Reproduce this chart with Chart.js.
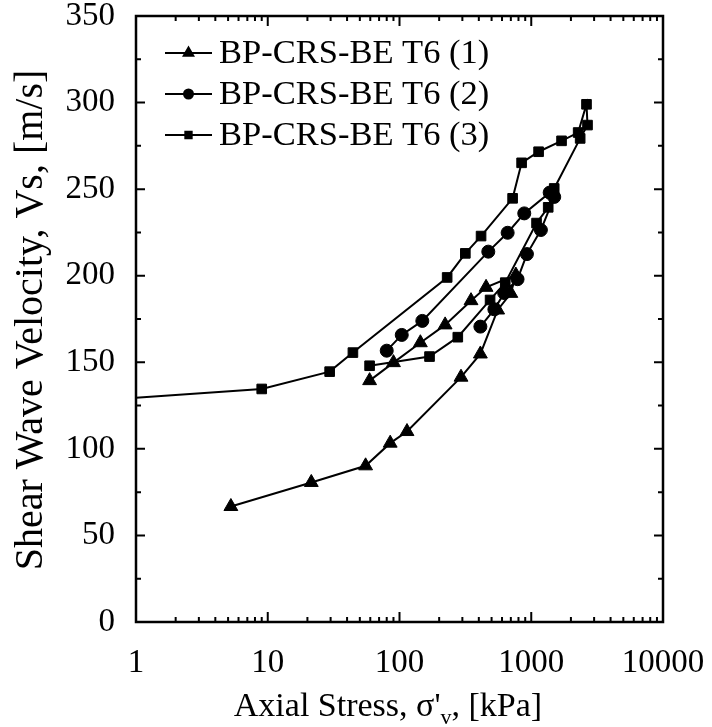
<!DOCTYPE html>
<html>
<head>
<meta charset="utf-8">
<script src="https://cdn.jsdelivr.net/npm/chart.js@4.4.0/dist/chart.umd.min.js"></script>
<style>
  html, body { margin: 0; padding: 0; background: #fff; }
</style>
</head>
<body>
<canvas id="vsChart" width="712" height="727"></canvas>
<script>
// series names
const seriesNames = ['BP-CRS-BE T6 (1)', 'BP-CRS-BE T6 (2)', 'BP-CRS-BE T6 (3)'];

// T6 (1) - triangles, axial stress [kPa] / Vs [m/s]
const stress1 = [5.25, 21.4, 55.3, 85, 114, 293, 411, 556, 700, 764, 454, 349, 222, 144, 90, 59.3];
const vs1 = [66.7, 80.6, 90.2, 103.3, 110, 141.4, 154.8, 180.2, 189.8, 200.4, 193.3, 185.6, 171.6, 161.3, 149.8, 139.4];

// T6 (2) - circles
const stress2 = [80, 104, 149, 472, 662, 885, 1380, 1494, 1183, 927, 787, 623, 525, 411];
const vs2 = [156.7, 165.8, 173.9, 213.9, 224.8, 236, 248, 245.5, 226.4, 212.5, 198, 190, 180.6, 170.6];

// T6 (3) - squares (first point lies left of the axis)
const stress3 = [0.5, 9, 29.5, 44.3, 230, 316, 416, 722, 845, 1137, 1698, 2270, 2626, 2673, 2351, 1494, 1345, 1097, 635, 487, 277, 169, 59.3];
const vs3 = [128, 134.6, 144.6, 155.6, 199, 212.9, 222.9, 244.7, 265.2, 271.6, 277.9, 282.7, 299, 287, 279.3, 250.4, 239.5, 230.4, 196, 186, 164.5, 153.3, 148];

// tick labels
const xTickLabels = [1, 10, 100, 1000, 10000];
const yTickLabels = [0, 50, 100, 150, 200, 250, 300, 350];

const FONT = "'Liberation Serif', 'Times New Roman', serif";

function toPoints(xs, ys) {
  return xs.map((x, i) => ({ x: x, y: ys[i] }));
}

const markers = [
  { style: 'triangle', r: 8, legendR: 5.5 },
  { style: 'circle', r: 6.5, legendR: 4.5 },
  { style: 'rect', r: 6.8, legendR: 4.5 }
];

const datasets = [[stress1, vs1], [stress2, vs2], [stress3, vs3]].map((s, i) => ({
  label: seriesNames[i],
  data: toPoints(s[0], s[1]),
  showLine: true,
  borderColor: '#000',
  borderWidth: 2,
  backgroundColor: '#000',
  pointStyle: markers[i].style,
  pointRadius: markers[i].r,
  pointBorderWidth: 1,
  pointBackgroundColor: '#000',
  pointBorderColor: '#000',
  tension: 0
}));

// frame, inward ticks, legend and axis titles
const decorations = {
  id: 'decorations',
  afterDraw(chart) {
    const ctx = chart.ctx;
    const a = chart.chartArea;
    const xs = chart.scales.x, ys = chart.scales.y;
    ctx.save();
    ctx.strokeStyle = '#000';
    ctx.fillStyle = '#000';

    // ticks
    ctx.lineWidth = 2;
    ctx.beginPath();
    for (let d = 1; d < 10000; d *= 10) {
      for (let m = 1; m <= 10; m++) {
        const v = d * m;
        const px = xs.getPixelForValue(v);
        const len = (m === 1 || m === 10) ? 10 : 5;
        ctx.moveTo(px, a.bottom); ctx.lineTo(px, a.bottom - len);
        ctx.moveTo(px, a.top); ctx.lineTo(px, a.top + len);
      }
    }
    for (let v = 0; v <= 350; v += 25) {
      const py = ys.getPixelForValue(v);
      const len = v % 50 === 0 ? 9 : 5;
      ctx.moveTo(a.left, py); ctx.lineTo(a.left + len, py);
      ctx.moveTo(a.right, py); ctx.lineTo(a.right - len, py);
    }
    ctx.stroke();

    // frame
    ctx.lineWidth = 2.5;
    ctx.strokeRect(a.left, a.top, a.right - a.left, a.bottom - a.top);

    // legend
    ctx.font = '34.5px ' + FONT;
    ctx.textBaseline = 'middle';
    ctx.textAlign = 'left';
    chart.data.datasets.forEach((ds, i) => {
      const y = 53 + i * 41;
      ctx.lineWidth = 2;
      ctx.beginPath();
      ctx.moveTo(165, y); ctx.lineTo(212, y);
      ctx.stroke();
      Chart.helpers.drawPoint(ctx, {
        pointStyle: markers[i].style, radius: markers[i].legendR, rotation: 0, borderWidth: 1
      }, 188.5, y);
      ctx.fillText(ds.label, 219, y + 1);
    });

    // x title with subscript v
    const parts = [['Axial Stress, σ\'', 34, 0], ['v', 22, 8], [', [kPa]', 34, 0]];
    let total = 0;
    parts.forEach(p => { ctx.font = p[1] + 'px ' + FONT; total += ctx.measureText(p[0]).width; });
    let x = 388 - total / 2;
    ctx.textBaseline = 'alphabetic';
    parts.forEach(p => {
      ctx.font = p[1] + 'px ' + FONT;
      ctx.fillText(p[0], x, 716 + p[2]);
      x += ctx.measureText(p[0]).width;
    });

    // y title
    ctx.font = '40px ' + FONT;
    ctx.textAlign = 'center';
    ctx.textBaseline = 'middle';
    ctx.translate(31, 320);
    ctx.rotate(-Math.PI / 2);
    ctx.fillText('Shear Wave Velocity, Vs, [m/s]', 0, 0);
    ctx.restore();
  }
};

new Chart(document.getElementById('vsChart'), {
  type: 'scatter',
  data: { datasets: datasets },
  options: {
    responsive: false,
    animation: false,
    layout: { padding: { left: 0, right: 49, top: 16, bottom: 0 } },
    plugins: {
      legend: { display: false },
      tooltip: { enabled: false }
    },
    scales: {
      x: {
        type: 'logarithmic',
        min: 1,
        max: 10000,
        grid: { display: false },
        border: { display: false },
        ticks: {
          autoSkip: false,
          maxRotation: 0,
          padding: 14,
          color: '#000',
          font: { family: FONT, size: 33 },
          callback: v => xTickLabels.includes(v) ? String(v) : ''
        },
        afterFit: s => { s.height = 105; s.paddingLeft = 0; s.paddingRight = 0; }
      },
      y: {
        min: 0,
        max: 350,
        grid: { display: false },
        border: { display: false },
        ticks: {
          stepSize: 50,
          padding: 13,
          color: '#000',
          font: { family: FONT, size: 33 },
          callback: v => yTickLabels.includes(v) ? String(v) : ''
        },
        afterFit: s => { s.width = 136; s.paddingTop = 0; s.paddingBottom = 0; }
      }
    }
  },
  plugins: [decorations]
});
</script>
</body>
</html>
